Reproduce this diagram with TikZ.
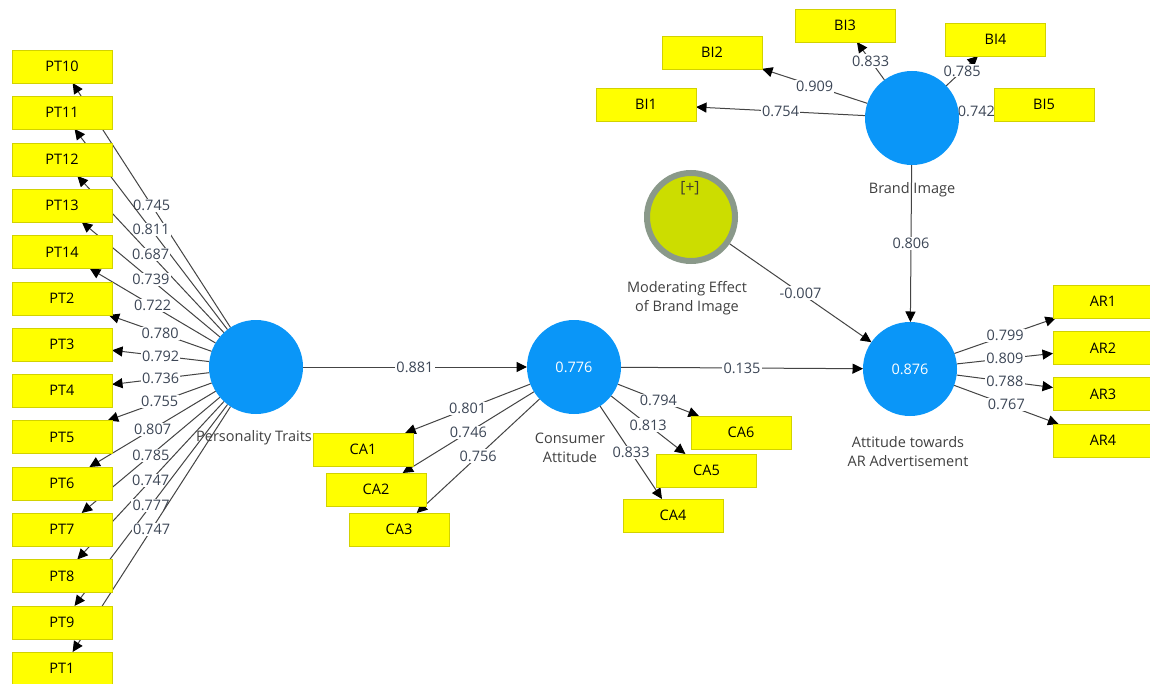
\documentclass[tikz,border=0pt]{standalone}
\usepackage{fontspec}
\setmainfont{Open Sans}
\usetikzlibrary{arrows.meta,calc}
\definecolor{lvblue}{HTML}{0A96F8}
\definecolor{indyellow}{HTML}{FFFF00}
\definecolor{indborder}{HTML}{D2D200}
\definecolor{modfill}{HTML}{CCDD00}
\definecolor{modring}{HTML}{8A998A}
\definecolor{edgegray}{HTML}{444444}
\definecolor{lblcolor}{HTML}{3C4656}
\definecolor{captext}{HTML}{404040}
\pgfdeclarelayer{bg}
\pgfdeclarelayer{edges}
\pgfsetlayers{bg,edges,main}
\begin{document}
\begin{tikzpicture}[x=1pt,y=-1pt,
  font=\fontsize{14.5}{17}\selectfont,
  ind/.style={draw=indborder, fill=indyellow, line width=0.8pt, minimum width=100pt, minimum height=33pt, inner sep=0pt, outer sep=0pt, text=black},
  lv/.style={circle, fill=lvblue, minimum size=94pt, inner sep=0pt, outer sep=0pt, text=white},
  modlv/.style={circle, fill=modfill, draw=modring, line width=6pt, minimum size=88pt, inner sep=0pt, outer sep=3pt},
  edge/.style={draw=edgegray, line width=1pt, -{Triangle[length=10.5pt,width=10pt,color=black]}},
  lbl/.style={fill=white, inner sep=1.2pt, text=lblcolor},
  captn/.style={text=captext, align=center, inner sep=0pt}]
\useasboundingbox (0,0) rectangle (1150,684);
\begin{pgfonlayer}{bg}
\fill[white] (0,0) rectangle (1150,684);
\end{pgfonlayer}

% latent variables
\node[lv] (PT) at (256,367) {};
\node[lv] (CA) at (574,367) {0.776};
\node[lv] (AR) at (910,369) {0.876};
\node[lv] (BI) at (912,118) {};
\node[modlv] (MOD) at (691,217) {};
\node[text=black!70!olive, inner sep=0pt, font=\fontsize{15.5}{17}\selectfont] (plus) at (690,188) {[+]};

% captions
\node[captn] (capPT) at (254,438) {Personality Traits};
\node[captn] (capCA) at (570,448) {Consumer\\[2pt]Attitude};
\node[captn] (capAR) at (908,452) {Attitude towards\\[2pt]AR Advertisement};
\node[captn] (capBI) at (912,190) {Brand Image};
\node[captn] (capMOD) at (687,298) {Moderating Effect\\[2pt]of Brand Image};

% PT indicators
\node[ind] (pt10) at (62,66.5) {PT10};
\node[ind] (pt11) at (62,112.5) {PT11};
\node[ind] (pt12) at (62,159.5) {PT12};
\node[ind] (pt13) at (62,205.5) {PT13};
\node[ind] (pt14) at (62,252) {PT14};
\node[ind] (pt2) at (62,298.5) {PT2};
\node[ind] (pt3) at (62,344.5) {PT3};
\node[ind] (pt4) at (62,390.5) {PT4};
\node[ind] (pt5) at (62,437) {PT5};
\node[ind] (pt6) at (62,483.5) {PT6};
\node[ind] (pt7) at (62,529.5) {PT7};
\node[ind] (pt8) at (62,576) {PT8};
\node[ind] (pt9) at (62,622.5) {PT9};
\node[ind] (pt1) at (62,668.5) {PT1};

% CA indicators
\node[ind] (ca1) at (363,449.5) {CA1};
\node[ind] (ca2) at (376,489.5) {CA2};
\node[ind] (ca3) at (399,529.5) {CA3};
\node[ind] (ca6) at (741,432.5) {CA6};
\node[ind] (ca5) at (706.5,470.5) {CA5};
\node[ind] (ca4) at (673,515.5) {CA4};

% BI indicators
\node[ind] (bi1) at (646,104.5) {BI1};
\node[ind] (bi2) at (712,52.5) {BI2};
\node[ind] (bi3) at (845,25.5) {BI3};
\node[ind] (bi4) at (995.5,39.5) {BI4};
\node[ind] (bi5) at (1044,104.5) {BI5};

% AR indicators
\node[ind] (ar1) at (1103,301.5) {AR1};
\node[ind] (ar2) at (1103,348) {AR2};
\node[ind] (ar3) at (1103,394) {AR3};
\node[ind] (ar4) at (1103,440.5) {AR4};

\begin{pgfonlayer}{edges}
% PT loadings
\draw[edge] (PT) -- (pt10) node[lbl,midway] {0.745};
\draw[edge] (PT) -- (pt11) node[lbl,midway] {0.811};
\draw[edge] (PT) -- (pt12) node[lbl,midway] {0.687};
\draw[edge] (PT) -- (pt13) node[lbl,midway] {0.739};
\draw[edge] (PT) -- (pt14) node[lbl,midway] {0.722};
\draw[edge] (PT) -- (pt2) node[lbl,midway] {0.780};
\draw[edge] (PT) -- (pt3) node[lbl,midway] {0.792};
\draw[edge] (PT) -- (pt4) node[lbl,midway] {0.736};
\draw[edge] (PT) -- (pt5) node[lbl,midway] {0.755};
\draw[edge] (PT) -- (pt6) node[lbl,midway] {0.807};
\draw[edge] (PT) -- (pt7) node[lbl,midway] {0.785};
\draw[edge] (PT) -- (pt8) node[lbl,midway] {0.747};
\draw[edge] (PT) -- (pt9) node[lbl,midway] {0.777};
\draw[edge] (PT) -- (pt1) node[lbl,midway] {0.747};
% CA loadings
\draw[edge] (CA) -- (ca1) node[lbl,midway] {0.801};
\draw[edge] (CA) -- (ca2) node[lbl,midway] {0.746};
\draw[edge] (CA) -- (ca3) node[lbl,midway] {0.756};
\draw[edge] (CA) -- (ca6) node[lbl,midway] {0.794};
\draw[edge] (CA) -- (ca5) node[lbl,midway] {0.813};
\draw[edge] (CA) -- (ca4) node[lbl,midway] {0.833};
% BI loadings
\draw[edge] (BI) -- (bi1) node[lbl,midway] {0.754};
\draw[edge] (BI) -- (bi2) node[lbl,midway] {0.909};
\draw[edge] (BI) -- (bi3) node[lbl,midway] {0.833};
\draw[edge] (BI) -- (bi4) node[lbl,midway] {0.785};
\draw[edge] (BI) -- (bi5) node[lbl,midway] {0.742};
% AR loadings
\draw[edge] (AR) -- (ar1) node[lbl,midway] {0.799};
\draw[edge] (AR) -- (ar2) node[lbl,midway] {0.809};
\draw[edge] (AR) -- (ar3) node[lbl,midway] {0.788};
\draw[edge] (AR) -- (ar4) node[lbl,midway] {0.767};
% structural paths
\draw[edge] (PT) -- (CA) node[lbl,midway] {0.881};
\draw[edge] (CA) -- (AR) node[lbl,midway] {0.135};
\draw[edge] (BI) -- (AR) node[lbl,midway] {0.806};
\draw[edge] (MOD) -- (AR) node[lbl,midway] {-0.007};
\end{pgfonlayer}
\end{tikzpicture}
\end{document}
